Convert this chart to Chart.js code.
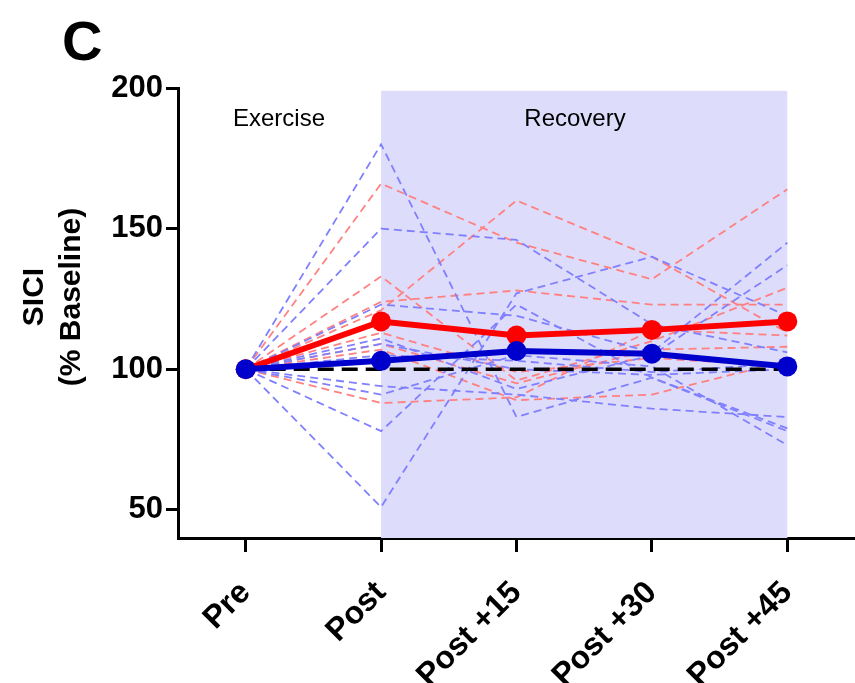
<!DOCTYPE html>
<html>
<head>
<meta charset="utf-8">
<script src="https://cdn.jsdelivr.net/npm/chart.js@4.4.1/dist/chart.umd.min.js"></script>
<style>
  html, body { margin: 0; padding: 0; background: #fff; }
  #wrap { position: relative; width: 855px; height: 683px; }
</style>
</head>
<body>
<div id="wrap"><canvas id="sici"></canvas></div>
<script>
// time points
const timeLabels = ['Pre', 'Post', 'Post +15', 'Post +30', 'Post +45'];
const yTicks = [50, 100, 150, 200];

// single subjects, red group
const red1 = [100, 166, 145, 132, 164];
const red2 = [100, 121, 160, 140, 113];
const red3 = [100, 133, 96, 110, 129];
const red4 = [100, 124, 128, 123, 123];
const red5 = [100, 109, 95, 107, 108];
const red6 = [100, 107, 89, 91, 103];
const red7 = [100, 88, 90, 114, 112];
const red8 = [100, 113, 99, 104, 101];

// single subjects, blue group
const blue1 = [100, 180, 83, 97, 79];
const blue2 = [100, 150, 146, 116, 106];
const blue3 = [100, 51, 127, 140, 119];
const blue4 = [100, 123, 119, 106, 145];
const blue5 = [100, 111, 93, 105, 137];
const blue6 = [100, 109, 100, 98, 100];
const blue7 = [100, 94, 91, 86, 83];
const blue8 = [100, 91, 105, 101, 73];
const blue9 = [100, 78, 123, 97, 78];
const blue10 = [100, 105, 103, 99, 102];

// group means
const redMean = [100, 117, 112, 114, 117];
const blueMean = [100, 103, 106.5, 105.5, 101];
const baseline = [100, 100, 100, 100, 100];

const FONT = 'Arial, "Liberation Sans", Helvetica, sans-serif';

function subject(data, color) {
    return {
        data: data,
        borderColor: color,
        borderWidth: 1.8,
        borderDash: [8, 5],
        pointRadius: 0,
        fill: false,
        tension: 0,
        order: 5
    };
}

const redSubjects = [red1, red2, red3, red4, red5, red6, red7, red8];
const blueSubjects = [blue1, blue2, blue3, blue4, blue5, blue6, blue7, blue8, blue9, blue10];

const datasets = [];
blueSubjects.forEach(d => datasets.push(subject(d, 'rgba(128, 128, 255, 1)')));
redSubjects.forEach(d => datasets.push(subject(d, 'rgba(255, 128, 128, 1)')));

// 100% line
datasets.push({
    data: baseline,
    borderColor: '#000',
    borderWidth: 3.5,
    borderDash: [16, 8],
    pointRadius: 0,
    order: 2
});
datasets.push({
    data: redMean,
    borderColor: '#ff0000',
    backgroundColor: '#ff0000',
    borderWidth: 6,
    pointRadius: 10,
    pointBorderWidth: 0,
    order: 1
});
datasets.push({
    data: blueMean,
    borderColor: '#0000cc',
    backgroundColor: '#0000cc',
    borderWidth: 6,
    pointRadius: 10,
    pointBorderWidth: 0,
    order: 0
});

// recovery shading + texts
const decor = {
    id: 'decor',
    beforeDatasetsDraw(chart) {
        const {ctx, scales: {x, y}, chartArea} = chart;
        const x1 = x.getPixelForValue(1);
        const x2 = x.getPixelForValue(4);
        const top = y.getPixelForValue(199);
        ctx.save();
        ctx.fillStyle = '#dddcfa';
        ctx.fillRect(x1, top, x2 - x1, chartArea.bottom - top);
        ctx.restore();
    },
    afterDraw(chart) {
        const {ctx, scales: {y}} = chart;
        ctx.save();
        ctx.fillStyle = '#000';
        ctx.textAlign = 'center';
        ctx.textBaseline = 'alphabetic';
        ctx.font = '24px ' + FONT;
        const ty = y.getPixelForValue(197) + 30;
        ctx.fillText('Exercise', 279, ty);
        ctx.fillText('Recovery', 575, ty);

        ctx.textAlign = 'left';
        ctx.font = 'bold 56px ' + FONT;
        ctx.fillText('C', 62, 60);

        // y title
        ctx.translate(0, 297);
        ctx.rotate(-Math.PI / 2);
        ctx.textAlign = 'center';
        ctx.textBaseline = 'middle';
        ctx.font = 'bold 30px ' + FONT;
        ctx.fillText('SICI', 0, 35);
        ctx.fillText('(% Baseline)', 0, 72);
        ctx.restore();
    }
};

new Chart(document.getElementById('sici'), {
    type: 'line',
    data: { labels: timeLabels, datasets: datasets },
    options: {
        responsive: true,
        maintainAspectRatio: false,
        animation: false,
        events: [],
        layout: { autoPadding: false, padding: { top: 88, left: 0, right: 0, bottom: 0 } },
        plugins: {
            legend: { display: false },
            tooltip: { enabled: false }
        },
        scales: {
            x: {
                offset: true,
                grid: {
                    display: true,
                    offset: false,
                    drawOnChartArea: false,
                    tickLength: 14,
                    tickWidth: 3,
                    tickColor: '#000'
                },
                border: { display: true, color: '#000', width: 3 },
                ticks: {
                    color: '#000',
                    font: { family: FONT, size: 32, weight: 'bold' },
                    minRotation: 45,
                    maxRotation: 45,
                    padding: 22
                },
                afterFit(scale) {
                    scale.height = 683 - 538;
                    scale.paddingLeft = 0;
                    scale.paddingRight = 0;
                }
            },
            y: {
                min: 40,
                max: 200,
                afterBuildTicks(scale) { scale.ticks = yTicks.map(v => ({ value: v })); },
                grid: {
                    display: true,
                    drawOnChartArea: false,
                    tickLength: 12,
                    tickWidth: 3,
                    tickColor: '#000'
                },
                border: { display: true, color: '#000', width: 3 },
                ticks: {
                    color: '#000',
                    font: { family: FONT, size: 31, weight: 'bold' },
                    padding: 3
                },
                afterFit(scale) {
                    scale.width = 178;
                    scale.paddingTop = 0;
                    scale.paddingBottom = 0;
                }
            }
        }
    },
    plugins: [decor]
});
</script>
</body>
</html>
